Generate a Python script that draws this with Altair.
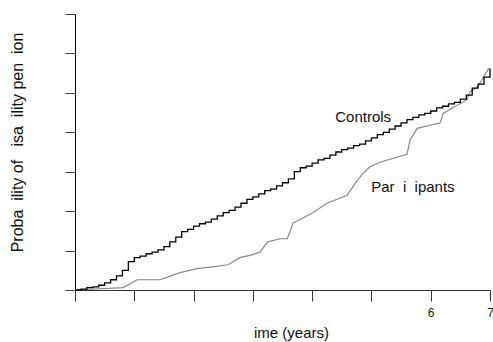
import altair as alt
import pandas as pd

# Controls (step function), years vs cumulative probability (%)
ctrl_x = [round(0.1 * i, 1) for i in range(71)]
ctrl_y = [0, 0.1, 0.3, 0.4, 0.6, 0.9, 1.3, 1.8, 2.5, 3.6,
          4.1, 4.3, 4.6, 4.8, 5.1, 5.5, 6.1, 6.7, 7.4, 7.7,
          8.1, 8.4, 8.6, 9.0, 9.4, 9.8, 10.1, 10.5, 11.0, 11.5,
          11.8, 12.2, 12.6, 12.8, 13.2, 13.6, 14.1, 15.0, 15.5, 15.7,
          16.1, 16.5, 16.7, 17.1, 17.5, 17.8, 18.0, 18.3, 18.5, 18.9,
          19.3, 19.7, 20.0, 20.4, 20.8, 21.2, 21.6, 21.9, 22.2, 22.4,
          22.7, 23.1, 23.3, 23.6, 23.8, 24.2, 24.7, 25.6, 26.1, 27.0,
          28.1]

# Participants
part_x = [0, 0.81, 0.93, 1.05, 1.43, 1.55, 1.77, 2.06, 2.39, 2.58, 2.78, 2.95,
          3.12, 3.25, 3.46, 3.58, 3.68, 3.79, 4.01, 4.25, 4.59, 4.76, 4.86, 4.97,
          5.14, 5.60, 5.65, 5.77, 6.16, 6.21, 6.37, 6.61, 6.66, 6.78, 6.86, 6.98]
part_y = [0, 0.3, 0.8, 1.3, 1.3, 1.6, 2.2, 2.7, 3.0, 3.2,
          4.1, 4.4, 4.8, 6.1, 6.5, 6.5, 8.5, 8.9, 9.8, 11.0,
          12.0, 13.9, 14.8, 15.6, 16.2, 17.2, 19.0, 20.5, 21.2, 22.4,
          23.1, 24.1, 25.1, 25.7, 26.6, 28.1]

NB = "\u00a0"
label_text = ["Controls", "Par" + NB * 2 + "i" + NB * 2 + "ipants"]
label_x = [4.86, 5.70]
label_y = [21.9, 13.1]

x_ticks = [0, 1, 2, 3, 4, 5, 6, 7]
y_ticks = [0, 5, 10, 15, 20, 25, 30, 35]

FONT = "Liberation Sans"

ctrl = pd.DataFrame({"t": ctrl_x, "p": ctrl_y})
part = pd.DataFrame({"t": part_x, "p": part_y})
labels = pd.DataFrame({"t": label_x, "p": label_y, "txt": label_text})

xs = alt.Scale(domain=[0, 7], nice=False, zero=False)
ys = alt.Scale(domain=[0, 35], nice=False)

y_title = "Proba" + NB * 2 + "ility of" + NB * 3 + "isa" + NB * 2 + "ility pen" + NB * 2 + "ion"

xaxis = alt.Axis(values=x_ticks, title="ime (years)", format="d",
                 labelExpr="datum.value >= 6 ? datum.label : ''",
                 grid=False, domainColor="#333", tickColor="#333",
                 tickSize=11, labelPadding=6, labelFont=FONT, labelFontSize=12,
                 labelColor="#222", labelFlush=False,
                 titleFont=FONT, titleFontSize=15, titleFontWeight="normal",
                 titleColor="#111", titleX=216, titleY=42,
                 titleBaseline="middle", titleAlign="center")
yaxis = alt.Axis(values=y_ticks, labels=False, title=y_title,
                 grid=False, domainColor="#000", tickColor="#444", tickSize=10,
                 titleFont=FONT, titleFontSize=16, titleFontWeight="normal",
                 titleColor="#111", titleX=-58, titleY=128, titleAngle=-90,
                 titleBaseline="middle", titleAlign="center")

X = alt.X("t:Q", scale=xs, axis=xaxis)
Y = alt.Y("p:Q", scale=ys, axis=yaxis)

base_p = alt.Chart(part).mark_line(color="#888888", strokeWidth=1.2).encode(x=X, y=Y)
base_c = alt.Chart(ctrl).mark_line(color="#000000", strokeWidth=1.3,
                                   interpolate="step-after").encode(x=X, y=Y)
txt = alt.Chart(labels).mark_text(font=FONT, fontSize=15, color="#111",
                                  align="center", baseline="middle").encode(
    x=X, y=Y, text="txt:N",
)

chart = alt.layer(base_p, base_c, txt).properties(
    width=415, height=276,
    autosize=alt.AutoSizeParams(type="none"),
    padding={"left": 75, "top": 14, "right": 3, "bottom": 52},
    background="white",
).configure_view(stroke=None)

chart.save("out.html", embed_options={"renderer": "svg", "actions": False})
